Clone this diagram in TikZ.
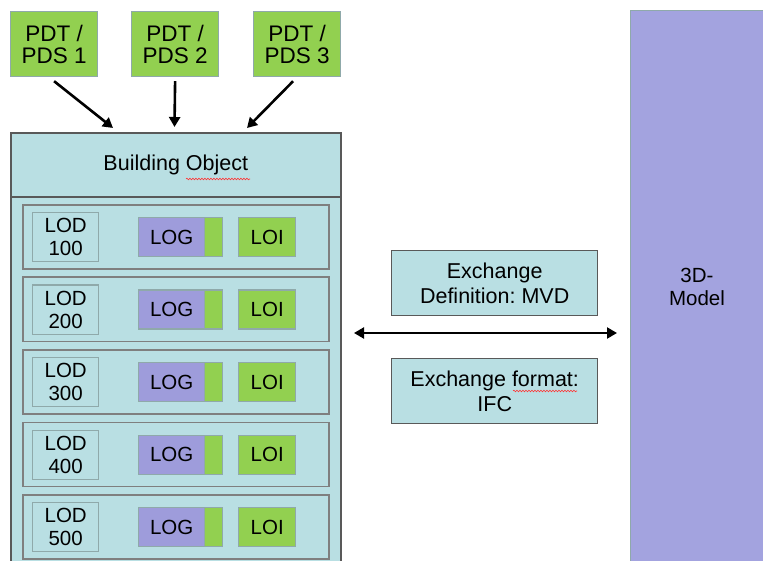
\documentclass[tikz,border=0pt]{standalone}
\usepackage{fontspec}
\setmainfont{Liberation Sans}
\frenchspacing
\usetikzlibrary{arrows.meta,decorations.pathmorphing}
\definecolor{pgreen}{HTML}{92D050}
\definecolor{pcyan}{HTML}{B9DFE3}
\definecolor{ppurple}{HTML}{9E9CDB}
\definecolor{pmodel}{HTML}{A3A3DF}
\definecolor{pteal}{HTML}{8FA9AA}
\definecolor{pgray}{HTML}{7F7F7F}
\definecolor{pdark}{HTML}{595959}
\tikzset{
  box/.style={anchor=north west,inner sep=0pt,align=center,text=black},
  pdtbox/.style={box,draw=pteal,line width=1.2pt,fill=pgreen,minimum width=87pt,minimum height=65pt,font=\fontsize{22.5}{22}\selectfont},
  rowbox/.style={box,draw=pgray,line width=1.8pt,fill=pcyan,minimum width=306pt,minimum height=64pt},
  lodbox/.style={box,draw=pteal,line width=1.4pt,fill=pcyan,minimum width=66pt,minimum height=49pt,font=\fontsize{20.5}{23}\selectfont},
  logbox/.style={box,draw=pteal,line width=1.4pt,fill=ppurple,minimum width=84pt,minimum height=39pt,
     path picture={\fill[pgreen] ([xshift=-18pt]path picture bounding box.north east) rectangle (path picture bounding box.south east);
     \draw[pteal,line width=0.8pt] ([xshift=-18pt]path picture bounding box.north east) -- ([xshift=-18pt]path picture bounding box.south east);}},
  loibox/.style={box,draw=pteal,line width=1.4pt,fill=pgreen,minimum width=57pt,minimum height=39pt,font=\fontsize{20.5}{23}\selectfont},
  txt/.style={inner sep=0pt,font=\fontsize{20.5}{23}\selectfont,text=black},
  exbox/.style={box,draw=pdark,line width=1.4pt,fill=pcyan,minimum width=206pt,minimum height=65pt,font=\fontsize{21.5}{25}\selectfont},
  arr/.style={line width=2.6pt,-{Triangle[length=10pt,width=11pt]}},
  squig/.style={red!80,line width=0.6pt,decorate,decoration={snake,amplitude=0.8pt,segment length=3pt}}
}
\begin{document}
\begin{tikzpicture}[x=1pt,y=-1pt]
\useasboundingbox (0,0) rectangle (763,561);
\clip (0,0) rectangle (763,561);
\fill[white] (0,0) rectangle (763,561);
% PDT boxes
\node[pdtbox] (p1) at (10,11) {PDT /\\PDS 1};
\node[pdtbox] (p2) at (131,11) {PDT /\\PDS 2};
\node[pdtbox] (p3) at (253,11) {PDT /\\PDS 3};
% building object
\node[box,draw=pdark,line width=1.6pt,fill=pcyan,minimum width=330pt,minimum height=64pt,font=\fontsize{21.5}{23}\selectfont] (bo) at (10,132) {Building Object};
\node[box,draw=pdark,line width=1.6pt,fill=pcyan,minimum width=330pt,minimum height=380pt] (body) at (10,196) {};
\draw[squig] (186,179) -- (250,179);
% arrows
\coordinate (t1) at (113,128);
\coordinate (t2) at (174.5,127);
\coordinate (t3) at (247,128);
\draw[arr] ([yshift=-4pt]p1.south) -- (t1);
\draw[arr] ([yshift=-4pt]p2.south) -- (t2);
\draw[arr] ([xshift=-4pt,yshift=-4pt]p3.south) -- (t3);
% rows
\foreach \i/\n in {0/100,1/200,2/300,3/400,4/500}{
  \pgfmathsetmacro{\yy}{204+72.5*\i}
  \node[rowbox] (row\i) at (22,\yy) {};
  \node[lodbox] (lod\i) at (32,\yy+8) {LOD\\\n};
  \node[logbox] (log\i) at (138,\yy+13) {};
  \node[txt] (logt\i) at ([xshift=-9pt]log\i.center) {LOG};
  \node[loibox] (loi\i) at (238,\yy+13) {LOI};
}
% exchange boxes
\node[exbox] (ed) at (391,250) {Exchange\\Definition: MVD};
\node[exbox] (ef) at (391,358) {Exchange format:\\IFC};
\draw[squig] (513,391) -- (577,391);
% 3D model
\node[box,draw=pteal,line width=1.2pt,fill=pmodel,minimum width=150pt,minimum height=560pt] (m) at (630,10) {};
\node[txt,align=center] (mt) at (697,287) {3D-\\Model};
% double arrow
\coordinate (a1) at (354,333);
\coordinate (a2) at (617,333);
\draw[line width=2.2pt,{Triangle[length=10pt,width=11pt]}-{Triangle[length=10pt,width=11pt]}] (a1) -- (a2);
\end{tikzpicture}
\end{document}
